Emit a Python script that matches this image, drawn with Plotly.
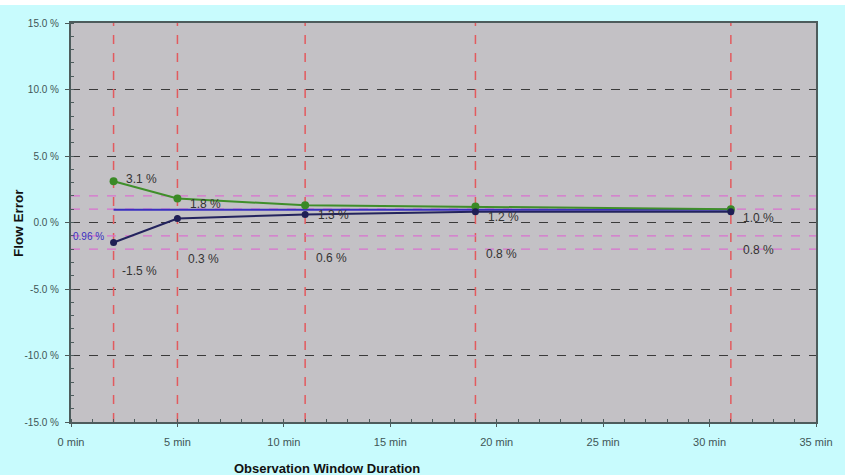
import plotly.graph_objects as go

# ---- data ----
windows_min = [2, 5, 11, 19, 31]
upper_error = [3.1, 1.8, 1.3, 1.2, 1.0]
upper_labels = ["3.1 %", "1.8 %", "1.3 %", "1.2 %", "1.0 %"]
lower_error = [-1.5, 0.3, 0.6, 0.8, 0.8]
lower_labels = ["-1.5 %", "0.3 %", "0.6 %", "0.8 %", "0.8 %"]
reference_error = 0.96
reference_label = "0.96 %"
tolerance_levels = [2, 1, -1, -2]
x_ticks = [0, 5, 10, 15, 20, 25, 30, 35]
x_tick_labels = ["0 min", "5 min", "10 min", "15 min", "20 min", "25 min", "30 min", "35 min"]
y_ticks = [-15, -10, -5, 0, 5, 10, 15]
y_tick_labels = ["-15.0 %", "-10.0 %", "-5.0 %", "0.0 %", "5.0 %", "10.0 %", "15.0 %"]

FONT = "Liberation Sans, Arial, sans-serif"
TICK_COLOR = "#3f5656"
Y_RANGE = [-15, 15]
X_RANGE = [0, 35]
fig = go.Figure()

# vertical dashed lines at each observation window
vx, vy = [], []
for w in windows_min:
    vx += [w, w, None]
    vy += [Y_RANGE[0], Y_RANGE[1], None]
fig.add_trace(go.Scatter(x=vx, y=vy, mode="lines",
                         line=dict(color="#e25a5e", width=1.5, dash="dash"),
                         hoverinfo="skip", showlegend=False))

# tolerance dashed lines
hx, hy = [], []
for lvl in tolerance_levels:
    hx += [X_RANGE[0], X_RANGE[1], None]
    hy += [lvl, lvl, None]
fig.add_trace(go.Scatter(x=hx, y=hy, mode="lines",
                         line=dict(color="#da72d0", width=1.3, dash="dash"),
                         hoverinfo="skip", showlegend=False))

# reference mean line
fig.add_trace(go.Scatter(
    x=[windows_min[0], windows_min[-1]], y=[reference_error, reference_error],
    mode="lines", line=dict(color="#3a2fc0", width=2), hoverinfo="skip", showlegend=False))

fig.add_trace(go.Scatter(
    x=windows_min, y=upper_error, mode="lines+markers",
    line=dict(color="#3f8f2a", width=2),
    marker=dict(color="#3a8a26", size=8), showlegend=False))

fig.add_trace(go.Scatter(
    x=windows_min, y=lower_error, mode="lines+markers",
    line=dict(color="#23235e", width=2),
    marker=dict(color="#1f1f55", size=7), showlegend=False))

annotations = []
up_shift = [(28, 2), (28, -5), (28, -10), (28, -10), (28, -9)]
for x, y, t, (dx, dy) in zip(windows_min, upper_error, upper_labels, up_shift):
    annotations.append(dict(x=x, y=y, text=t, xref="x", yref="y", showarrow=False,
                            xshift=dx, yshift=dy, font=dict(family=FONT, size=12, color="#333")))
lo_shift = [(26, -29), (26, -40), (26, -43), (26, -42), (28, -38)]
for x, y, t, (dx, dy) in zip(windows_min, lower_error, lower_labels, lo_shift):
    annotations.append(dict(x=x, y=y, text=t, xref="x", yref="y", showarrow=False,
                            xshift=dx, yshift=dy, font=dict(family=FONT, size=12, color="#333")))
annotations.append(dict(x=0, y=reference_error, text=reference_label, xref="x", yref="y",
                        showarrow=False, xanchor="left", xshift=0, yshift=-27,
                        font=dict(family=FONT, size=10, color="#3a2fc0")))
annotations.append(dict(x=-53 / 751, y=0.5, xref="paper", yref="paper", text="<b>Flow Error</b>",
                        textangle=-90, showarrow=False, xanchor="center", yanchor="middle",
                        font=dict(family=FONT, size=13.5, color="#111")))
annotations.append(dict(x=0.344, y=-0.093, xref="paper", yref="paper", yanchor="top",
                        xanchor="center",
                        text="<b>Observation Window Duration</b>", showarrow=False,
                        font=dict(family=FONT, size=13, color="#111")))

fig.update_layout(
    width=845, height=470,
    margin=dict(l=71, r=23, t=18, b=53),
    paper_bgcolor="#c8fbfd",
    plot_bgcolor="#c3c1c5",
    annotations=annotations,
    font=dict(family=FONT, size=9, color="#333"),
    xaxis=dict(range=X_RANGE, tickvals=x_ticks, ticktext=x_tick_labels,
               showgrid=False, zeroline=False, showline=True, linecolor="#4d5c5c",
               linewidth=2, mirror=True, ticks="outside", ticklen=3, tickcolor="#4d5c5c",
               ticklabelstandoff=6,
               minor=dict(dtick=1, ticks="inside", ticklen=3, tickcolor="#4d5c5c", showgrid=False),
               tickfont=dict(family=FONT, size=11, color=TICK_COLOR)),
    yaxis=dict(range=Y_RANGE, tickvals=y_ticks, ticktext=y_tick_labels,
               showgrid=True, gridcolor="#3a3a3a", griddash="dash", gridwidth=1,
               zeroline=False, showline=True, linecolor="#4d5c5c", linewidth=2, mirror=True,
               ticks="outside", ticklen=4, tickcolor="#4d5c5c", ticklabelstandoff=4,
               minor=dict(dtick=1, ticks="inside", ticklen=3, tickcolor="#4d5c5c", showgrid=False),
               tickfont=dict(family=FONT, size=10, color=TICK_COLOR)),
)

fig.write_html("out.html", config={"displayModeBar": False},
               post_script="document.documentElement.style.background='#ffffff';document.body.style.background='#ffffff';document.body.style.margin='5px 0 0 0';")
